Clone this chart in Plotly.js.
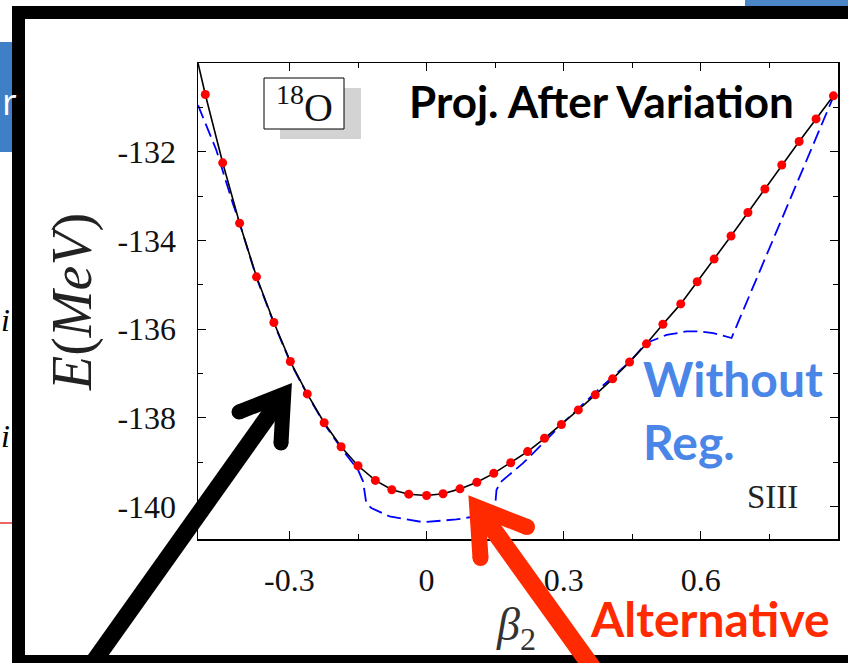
<!DOCTYPE html>
<html>
<head>
<meta charset="utf-8">
<script src="https://cdn.plot.ly/plotly-3.0.1.min.js"></script>
<style>html,body{margin:0;padding:0;background:#fff;}#chart{width:848px;height:663px;}</style>
</head>
<body>
<div id="chart"></div>
<script>
// ---- data ----
const betaProj = [-0.484,-0.446,-0.409,-0.372,-0.334,-0.298,-0.261,-0.224,-0.187,-0.150,-0.112,-0.076,-0.039,0.000,0.036,0.073,0.110,0.147,0.184,0.221,0.258,0.295,0.332,0.369,0.407,0.444,0.481,0.517,0.556,0.592,0.629,0.666,0.703,0.740,0.777,0.815,0.852,0.890];
const energyProj = [-130.71,-132.25,-133.61,-134.82,-135.85,-136.73,-137.46,-138.11,-138.65,-139.08,-139.41,-139.62,-139.72,-139.75,-139.71,-139.60,-139.45,-139.25,-139.01,-138.76,-138.46,-138.15,-137.82,-137.48,-137.12,-136.74,-136.33,-135.89,-135.43,-134.93,-134.42,-133.90,-133.37,-132.84,-132.30,-131.77,-131.26,-130.74];
const betaCurveStart = [-0.500];
const energyCurveStart = [-130.00];
const betaNoReg = [-0.500,-0.460,-0.424,-0.409,-0.372,-0.334,-0.298,-0.261,-0.224,-0.187,-0.150,-0.139,-0.132,-0.121,-0.081,-0.008,0.065,0.094,0.149,0.153,0.164,0.211,0.255,0.298,0.372,0.445,0.481,0.525,0.569,0.598,0.627,0.667,0.890];
const energyNoReg = [-130.95,-131.96,-133.16,-133.61,-134.84,-135.87,-136.75,-137.47,-138.13,-138.68,-139.17,-139.43,-139.92,-140.03,-140.22,-140.35,-140.29,-140.24,-140.11,-139.62,-139.43,-139.02,-138.57,-138.12,-137.40,-136.73,-136.31,-136.13,-136.05,-136.05,-136.09,-136.20,-130.76];
const xTickVals = [-0.3, 0, 0.3, 0.6];
const xTickText = ['-0.3', '0', '0.3', '0.6'];
const xMinorVals = [-0.15, 0.15, 0.45, 0.75];
const yTickVals = [-140, -138, -136, -134, -132];
const yTickText = ['-140', '-138', '-136', '-134', '-132'];
const yMinorVals = [-139, -137, -135, -133, -131];

// ---- geometry helpers (pixel -> paper) ----
const L = 198, R = 838, T = 63, B = 539, FW = 848, FH = 663;
const PW = R - L, PH = B - T;
const px = x => (x - L) / PW;
const py = y => (B - y) / PH;
function rect(x0, y0, x1, y1, fill, line) {
  return {type:'rect', xref:'paper', yref:'paper', x0:px(x0), x1:px(x1), y0:py(y1), y1:py(y0),
    fillcolor: fill, line: line || {width:0}, layer:'above'};
}
function poly(pts, color, width) {
  const d = pts.map((p, i) => (i ? 'L' : 'M') + px(p[0]) + ',' + py(p[1])).join(' ');
  return {type:'path', xref:'paper', yref:'paper', path:d, fillcolor:'rgba(0,0,0,0)',
    line:{color:color, width:width}, layer:'above'};
}
function dot(cx, cy, r, color) {
  return {type:'circle', xref:'paper', yref:'paper', x0:px(cx - r), x1:px(cx + r), y0:py(cy + r), y1:py(cy - r),
    fillcolor:color, line:{width:0}, layer:'above'};
}
function arrow(tip, dir, wingA, wingB, tail, color, shaftW, wingW) {
  const v = [tip[0] + 14 * dir[0], tip[1] + 14 * dir[1]];
  return [
    poly([v, tail], color, shaftW),
    poly([wingA, v, wingB], color, wingW),
    dot(wingA[0], wingA[1], wingW / 2, color),
    dot(wingB[0], wingB[1], wingW / 2, color)
  ];
}

const traces = [
  {x: betaNoReg, y: energyNoReg, mode:'lines', line:{color:'#0000ff', width:1.8, dash:'14px,6px'}, hoverinfo:'skip'},
  {x: betaCurveStart.concat(betaProj), y: energyCurveStart.concat(energyProj), mode:'lines', line:{color:'#000', width:1.6}, hoverinfo:'skip'},
  {x: betaProj, y: energyProj, mode:'markers', marker:{color:'#ff0000', size:9, line:{width:0}}, hoverinfo:'skip'}
];

const serif = 'Liberation Serif, Times New Roman, serif';
const tickFont = {family: serif, size: 32, color:'#111'};

const shapes = [
  rect(0, 42, 12, 152, '#3f7fc6'),
  rect(745, 0, 848, 7, '#4a86c6'),
  {type:'line', xref:'paper', yref:'paper', x0:px(0), x1:px(12), y0:py(523), y1:py(523), line:{color:'#e00000', width:1.2}, layer:'above'},
  rect(12, 6, 25, 663, '#000'),
  rect(12, 6, 848, 19, '#000'),
  rect(12, 655, 848, 663, '#000'),
  rect(280, 88, 361, 139, '#d3d3d3'),
  rect(264, 78, 344, 129, '#fff', {color:'#000', width:1}),
].concat(
  arrow([292, 383], [-0.59, 0.807], [239, 412], [281, 443], [70, 695], '#000', 17, 15),
  arrow([469, 496], [0.586, 0.81], [480.5, 558], [527, 527], [612, 695], '#ff2a00', 18, 16)
);

const ann = (x, y, text, font, extra) => Object.assign({xref:'paper', yref:'paper', x:px(x), y:py(y), text:text,
  showarrow:false, font:font, xanchor:'center', yanchor:'middle'}, extra || {});
const annotations = [
  ann(72, 302, '<i>E</i>(<i>MeV</i>)', {family: serif, size: 56, color:'#222'}, {textangle:-90}),
  ann(516, 628, '<i>β</i><sub>2</sub>', {family: serif, size: 46, color:'#333'}),
  ann(601, 101, 'Proj. After Variation', {family:'Lato', size: 44, weight: 700, color:'#000'}),
  ann(641, 378, 'Without', {family:'Lato', size: 48, weight: 700, color:'#4a86e8'}, {xanchor:'left'}),
  ann(641, 441, 'Reg.', {family:'Lato', size: 48, weight: 700, color:'#4a86e8'}, {xanchor:'left'}),
  ann(588, 618, 'Alternative', {family:'Lato', size: 48, weight: 700, color:'#ff2a00'}, {xanchor:'left'}),
  ann(772, 497, 'SIII', {family: serif, size: 33, color:'#222'}),
  ann(304, 104, '<sup>18</sup>O', {family: serif, size: 40, color:'#111'}),
  ann(0, 101, 'r', {family:'Open Sans', size: 36, color:'#fff'}, {xanchor:'left'}),
  ann(-1, 320, '<i>i</i>', {family: serif, size: 32, color:'#000'}, {xanchor:'left'}),
  ann(-1, 436, '<i>i</i>', {family: serif, size: 32, color:'#000'}, {xanchor:'left'})
];

const axisCommon = {
  showline:true, linecolor:'#000', linewidth:1.5, mirror:'ticks', ticks:'inside', ticklen:8, tickwidth:1, tickcolor:'#000',
  showgrid:false, zeroline:false, tickfont: tickFont, tickmode:'array'
};

const layout = {
  width: FW, height: FH,
  margin: {l: L, r: FW - R, t: T, b: FH - B, pad: 0},
  paper_bgcolor:'#fff', plot_bgcolor:'#fff', showlegend:false,
  xaxis: Object.assign({}, axisCommon, {range:[-0.5, 0.9], tickvals:xTickVals, ticktext:xTickText, ticklabelstandoff: 12,
    minor:{tickmode:'array', tickvals:xMinorVals, ticks:'inside', ticklen:5, tickcolor:'#000', tickwidth:1, showgrid:false}}),
  yaxis: Object.assign({}, axisCommon, {range:[-140.73, -130], tickvals:yTickVals, ticktext:yTickText, ticklabelstandoff: 14,
    minor:{tickmode:'array', tickvals:yMinorVals, ticks:'inside', ticklen:5, tickcolor:'#000', tickwidth:1, showgrid:false}}),
  shapes: shapes,
  annotations: annotations
};

Plotly.newPlot('chart', traces, layout, {staticPlot:true, displayModeBar:false});
</script>
</body>
</html>
